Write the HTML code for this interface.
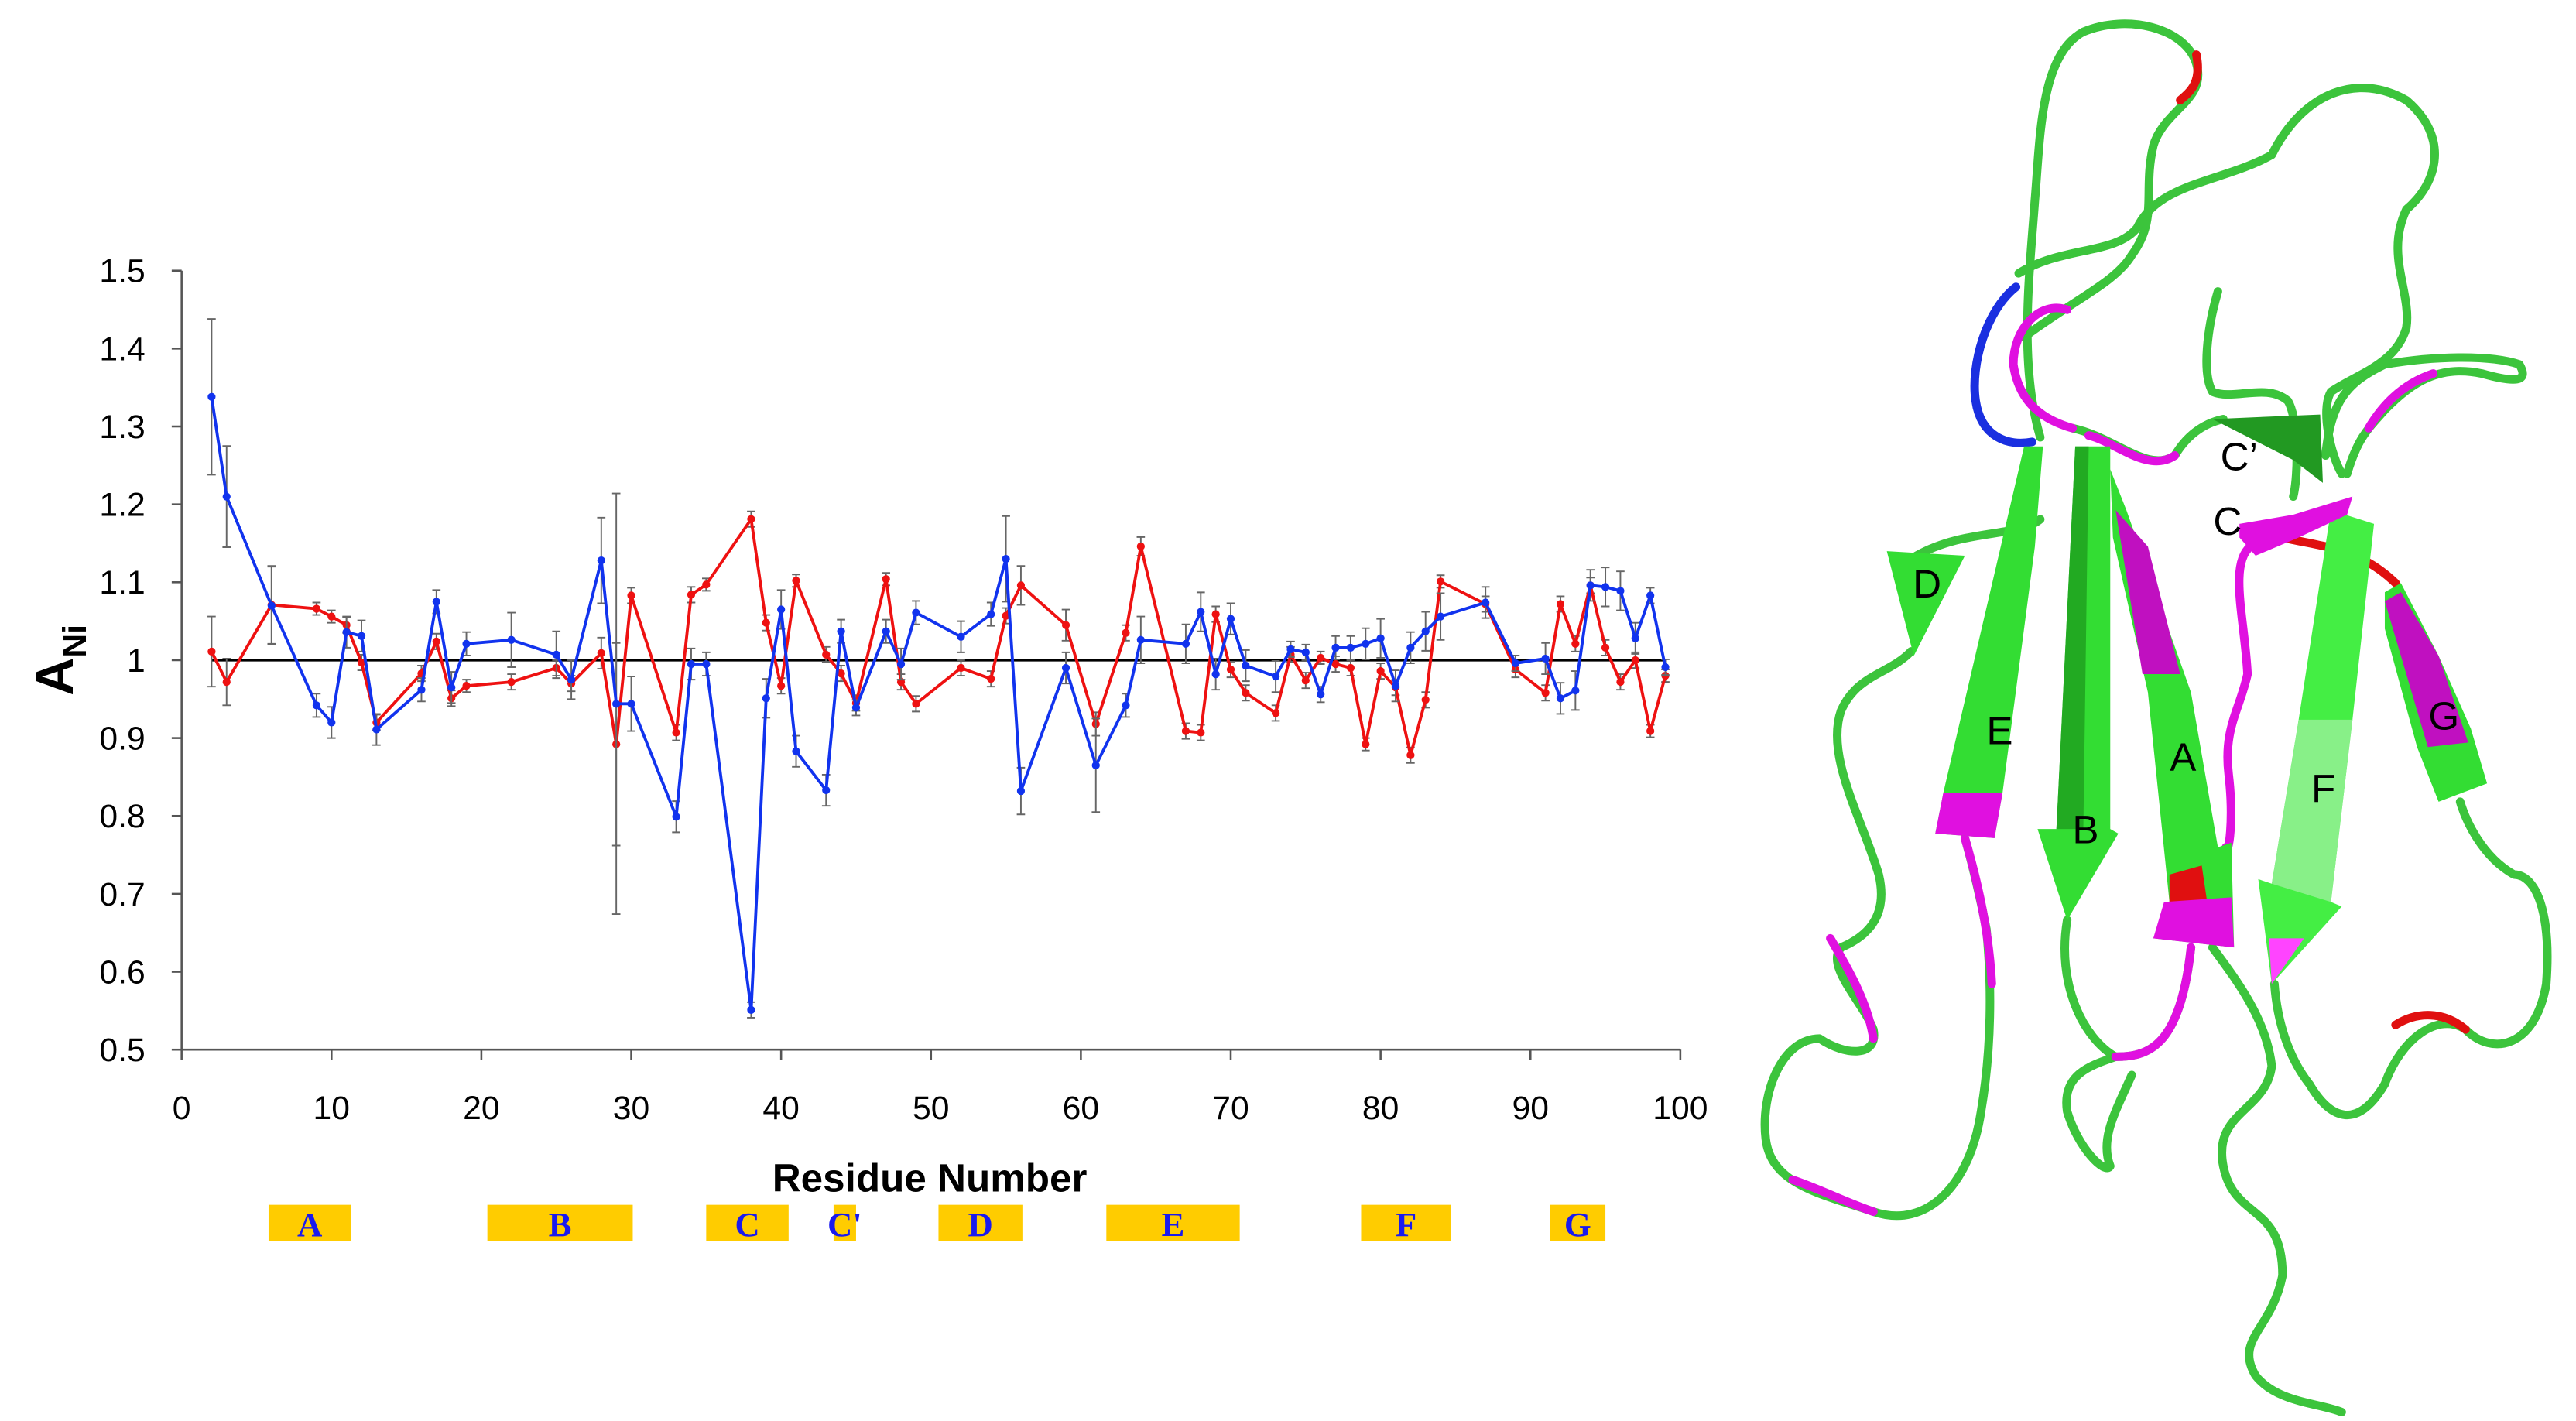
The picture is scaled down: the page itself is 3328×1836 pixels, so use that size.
<!DOCTYPE html>
<html><head><meta charset="utf-8"><style>
html,body{margin:0;padding:0;background:#fff;}
svg{display:block;}
text{font-family:"Liberation Sans",sans-serif;}
text.serif{font-family:"Liberation Serif",serif;}
</style></head><body>
<svg id="fig" width="3328" height="1836" viewBox="0 0 1560 861" preserveAspectRatio="none" xmlns="http://www.w3.org/2000/svg">
<g id="chart"></g>
<g id="protein">
 <g transform="translate(1053,0) scale(0.326,0.552)" fill="none" stroke-linecap="round" stroke-linejoin="round">
  <g stroke="#3cc43c" stroke-width="11">
   <path vector-effect="non-scaling-stroke" d="M560,480 C520,400 540,300 550,220 C560,150 560,60 640,35 C720,15 830,30 850,70 C870,110 790,120 770,160 C750,210 780,240 730,280 C700,310 620,330 530,370"/>
   <path vector-effect="non-scaling-stroke" d="M520,300 C600,270 700,280 740,250 C780,200 900,200 990,170 C1050,100 1150,80 1240,110 C1320,150 1300,200 1240,230 C1200,280 1250,320 1240,360 C1220,400 1150,410 1100,430 C1080,450 1100,500 1120,520"/>
   <path vector-effect="non-scaling-stroke" d="M620,470 C700,480 760,520 810,500 C830,480 860,465 900,460"/>
   <path vector-effect="non-scaling-stroke" d="M890,320 C870,360 860,410 880,430 C920,440 980,420 1020,440 C1040,460 1040,520 1030,545"/>
   <path vector-effect="non-scaling-stroke" d="M1090,500 C1100,440 1130,420 1200,400 C1300,390 1400,390 1450,400 C1470,420 1440,420 1380,410 C1300,400 1250,420 1200,450 C1170,470 1150,480 1130,520"/>
   <path vector-effect="non-scaling-stroke" d="M560,570 C520,590 420,580 330,610"/>
   <path vector-effect="non-scaling-stroke" d="M320,715 C280,740 220,740 190,780 C160,830 230,900 260,960 C280,1010 230,1030 190,1040 C160,1060 230,1100 250,1130 C260,1160 200,1160 150,1140 C80,1140 40,1200 50,1250 C60,1300 150,1310 250,1330 C350,1350 430,1300 450,1220 C470,1150 470,1080 460,1020 C440,960 420,920 420,920"/>
   <path vector-effect="non-scaling-stroke" d="M610,1010 C590,1080 640,1140 700,1160 C760,1160 820,1150 840,1040"/>
   <path vector-effect="non-scaling-stroke" d="M700,1160 C650,1170 600,1180 610,1220 C630,1260 680,1290 690,1280 C670,1250 700,1220 730,1180"/>
   <path vector-effect="non-scaling-stroke" d="M880,1040 C930,1080 980,1120 990,1170 C980,1220 880,1220 900,1280 C920,1340 1010,1320 1010,1400 C990,1460 920,1470 960,1510 C1000,1540 1080,1540 1120,1550"/>
   <path vector-effect="non-scaling-stroke" d="M995,1080 C1000,1120 1020,1160 1060,1190 C1100,1230 1150,1240 1200,1190 C1230,1140 1300,1110 1350,1130 C1400,1160 1480,1150 1500,1080 C1510,1000 1480,960 1440,960 C1380,940 1350,900 1340,880"/>
  </g>
  <g stroke="#e010e0" stroke-width="11">
   <path vector-effect="non-scaling-stroke" d="M610,340 C560,330 510,360 510,400 C520,440 560,460 620,470"/>
   <path vector-effect="non-scaling-stroke" d="M650,478 C700,485 760,520 810,500"/>
   <path vector-effect="non-scaling-stroke" d="M950,600 C910,620 940,680 945,740 C930,780 900,800 910,850 C920,900 910,940 905,930"/>
   <path vector-effect="non-scaling-stroke" d="M420,920 C440,960 465,1020 470,1080"/>
   <path vector-effect="non-scaling-stroke" d="M700,1160 C760,1160 820,1150 840,1040"/>
   <path vector-effect="non-scaling-stroke" d="M1170,470 C1200,440 1240,420 1290,410"/>
   <path vector-effect="non-scaling-stroke" d="M170,1030 C200,1060 240,1100 250,1140"/>
   <path vector-effect="non-scaling-stroke" d="M100,1295 C150,1305 200,1320 250,1330"/>
  </g>
  <path d="M515,315 C460,340 430,400 440,440 C450,480 500,490 545,485" stroke="#1a2fe0" stroke-width="11" vector-effect="non-scaling-stroke"/>
  <g stroke="#e01010" stroke-width="11">
   <path vector-effect="non-scaling-stroke" d="M850,60 C860,90 840,100 820,110"/>
   <path vector-effect="non-scaling-stroke" d="M1010,590 C1080,600 1150,600 1220,640"/>
   <path vector-effect="non-scaling-stroke" d="M1220,1125 C1260,1110 1310,1110 1350,1130"/>
  </g>
  <g stroke="none">
   <polygon points="530,490 565,490 550,600 490,870 475,920 365,915 380,870" fill="#33dd33"/>
   <polygon points="380,870 490,870 475,920 365,915" fill="#e010e0"/>
   <polygon points="625,490 690,490 690,910 705,915 610,1010 555,910 590,910" fill="#33dd33"/>
   <polygon points="625,490 650,490 640,910 590,910" fill="#22aa22"/>
   <polygon points="690,515 720,560 840,760 890,930 915,925 920,1040 770,1030 800,990 760,760 695,590" fill="#33dd33"/>
   <polygon points="700,560 760,600 820,740 750,740" fill="#c010c0"/>
   <polygon points="800,960 860,950 870,990 800,990" fill="#e01010"/>
   <polygon points="790,990 915,985 920,1040 770,1030" fill="#e010e0"/>
   <polygon points="1100,560 1180,575 1140,790 1100,990 1120,995 990,1080 965,965 990,970 1040,790" fill="#44ee44"/>
   <polygon points="1040,790 1140,790 1100,990 990,970" fill="#88f088"/>
   <polygon points="985,1030 1050,1030 990,1080" fill="#ff44ff"/>
   <polygon points="1200,650 1230,640 1300,720 1360,800 1390,860 1300,880 1260,820 1200,690" fill="#33dd33"/>
   <polygon points="1200,660 1230,650 1300,720 1355,815 1280,820 1240,740" fill="#c010c0"/>
   <polygon points="275,605 420,610 325,720" fill="#33dd33"/>
   <polygon points="880,460 1080,455 1085,530 1030,505" fill="#229922"/>
   <polygon points="930,575 1030,565 1140,545 1130,565 1040,590 960,610 930,590" fill="#e010e0"/>
  </g>
 </g>
 <g font-size="24" fill="#000">
  <text x="1167" y="362" text-anchor="middle">D</text>
  <text x="1211" y="451" text-anchor="middle">E</text>
  <text x="1263" y="511" text-anchor="middle">B</text>
  <text x="1322" y="467" text-anchor="middle">A</text>
  <text x="1407" y="486" text-anchor="middle">F</text>
  <text x="1480" y="442" text-anchor="middle">G</text>
  <text x="1356" y="285" text-anchor="middle">C’</text>
  <text x="1349" y="324" text-anchor="middle">C</text>
 </g>
</g>
</svg>
<script>
const residues = [2,3,6,9,10,11,12,13,16,17,18,19,22,25,26,28,29,30,33,34,35,38,39,40,41,43,44,45,47,48,49,52,54,55,56,59,61,63,64,67,68,69,70,71,73,74,75,76,77,78,79,80,81,82,83,84,87,89,91,92,93,94,95,96,97,98,99];
const blueValues = [1.338,1.21,1.07,0.942,0.92,1.036,1.031,0.911,0.962,1.075,0.965,1.021,1.026,1.007,0.975,1.128,0.944,0.944,0.799,0.995,0.995,0.551,0.951,1.065,0.883,0.833,1.037,0.939,1.037,0.995,1.061,1.030,1.059,1.130,0.832,0.99,0.865,0.942,1.026,1.021,1.062,0.982,1.053,0.993,0.979,1.014,1.01,0.956,1.016,1.016,1.021,1.028,0.967,1.016,1.037,1.056,1.074,0.996,1.002,0.951,0.961,1.096,1.094,1.089,1.028,1.083,0.991];
const blueErrors = [0.1,0.065,0.05,0.015,0.02,0.02,0.02,0.02,0.015,0.015,0.02,0.015,0.035,0.03,0.025,0.055,0.27,0.035,0.02,0.02,0.015,0.01,0.025,0.025,0.02,0.02,0.015,0.01,0.015,0.02,0.015,0.02,0.015,0.055,0.03,0.02,0.06,0.015,0.03,0.025,0.025,0.02,0.02,0.02,0.02,0.01,0.01,0.01,0.015,0.015,0.02,0.025,0.02,0.02,0.025,0.03,0.02,0.01,0.02,0.02,0.025,0.02,0.025,0.025,0.02,0.01,0.01];
const redValues = [1.011,0.972,1.071,1.066,1.056,1.045,0.997,0.92,0.983,1.024,0.951,0.967,0.972,0.99,0.97,1.009,0.892,1.083,0.907,1.084,1.097,1.181,1.048,0.967,1.102,1.007,0.983,0.945,1.104,0.972,0.944,0.99,0.976,1.057,1.096,1.045,0.918,1.035,1.146,0.909,0.907,1.059,0.988,0.958,0.932,1.007,0.974,1.003,0.995,0.99,0.892,0.986,0.965,0.878,0.949,1.101,1.072,0.988,0.958,1.072,1.021,1.096,1.016,0.972,1.0,0.909,0.98];
const redErrors = [0.045,0.03,0.05,0.008,0.008,0.01,0.01,0.01,0.01,0.01,0.01,0.008,0.01,0.01,0.01,0.02,0.13,0.01,0.01,0.01,0.008,0.01,0.01,0.01,0.008,0.01,0.01,0.01,0.008,0.01,0.01,0.01,0.01,0.01,0.025,0.02,0.015,0.01,0.012,0.01,0.01,0.01,0.01,0.01,0.01,0.01,0.01,0.008,0.01,0.01,0.008,0.01,0.01,0.01,0.01,0.008,0.01,0.01,0.01,0.01,0.01,0.01,0.01,0.01,0.01,0.008,0.008];
const xTicks = [0,10,20,30,40,50,60,70,80,90,100];
const yTicks = [0.5,0.6,0.7,0.8,0.9,1,1.1,1.2,1.3,1.4,1.5];
const segmentNames = ["A","B","C","C'","D","E","F","G"];
const segmentStarts = [5.8,20.4,35,43.5,50.5,61.7,78.7,91.3];
const segmentEnds = [11.3,30.1,40.5,45,56.1,70.6,84.7,95];

const NS = "http://www.w3.org/2000/svg";
const chart = document.getElementById("chart");
const X0 = 110, XPU = 9.076, Y15 = 164, YPU = 472;
function sx(v){ return X0 + v * XPU; }
function sy(v){ return Y15 + (1.5 - v) * YPU; }
function mk(tag, attrs, parent){
  const e = document.createElementNS(NS, tag);
  for (const k in attrs) e.setAttribute(k, attrs[k]);
  (parent || chart).appendChild(e);
  return e;
}
let ax = mk("line",{x1:sx(0),y1:sy(1.5),x2:sx(0),y2:sy(0.5),stroke:"#555","stroke-width":1.2});


ax = mk("line",{x1:sx(0),y1:sy(0.5),x2:sx(100),y2:sy(0.5),stroke:"#555","stroke-width":1.2});


yTicks.forEach(v => {
  const t = mk("line",{x1:sx(0)-6,y1:sy(v),x2:sx(0),y2:sy(v),stroke:"#555","stroke-width":1.2});
  
  
  const l = mk("text",{x:88,y:sy(v)+7,"text-anchor":"end","font-size":20,fill:"#000"});
  l.textContent = String(v);
  
  
});
xTicks.forEach(v => {
  const t = mk("line",{x1:sx(v),y1:sy(0.5),x2:sx(v),y2:sy(0.5)+6,stroke:"#555","stroke-width":1.2});
  
  
  const l = mk("text",{x:sx(v),y:678,"text-anchor":"middle","font-size":20,fill:"#000"});
  l.textContent = String(v);
  
  
});
let tt = mk("text",{x:563,y:722,"text-anchor":"middle","font-size":24,"font-weight":"bold",fill:"#000"});
tt.textContent = "Residue Number";


tt = mk("text",{transform:"translate(44,400) rotate(-90)","text-anchor":"middle","font-size":32,"font-weight":"bold",fill:"#000"});
tt.innerHTML = 'A<tspan font-size="20" dy="8">Ni</tspan>';


segmentNames.forEach((n,i) => {
  const r = mk("rect",{x:sx(segmentStarts[i]),y:730,width:sx(segmentEnds[i])-sx(segmentStarts[i]),height:22,fill:"#ffcc00"});
  
  
  const t = mk("text",{x:(sx(segmentStarts[i])+sx(segmentEnds[i]))/2,y:749,"text-anchor":"middle","font-size":21,"font-weight":"bold",fill:"#1a1aee","class":"serif"});
  t.textContent = n;
  
  
});
const ref = mk("line",{x1:sx(2),y1:sy(1),x2:sx(99),y2:sy(1),stroke:"#000","stroke-width":1.6});


function series(vals, errs, color, name){
  const g = mk("g",{});
  
  
  residues.forEach((r,i) => {
    const x = sx(r), y1 = sy(vals[i]+errs[i]), y2 = sy(vals[i]-errs[i]);
    const e = mk("path",{d:`M${x},${y1}V${y2}M${x-2.5},${y1}h5M${x-2.5},${y2}h5`,stroke:"#666","stroke-width":0.9,fill:"none"}, g);
    
    
  });
  const pts = residues.map((r,i) => sx(r) + "," + sy(vals[i])).join(" ");
  const pl = mk("polyline",{points:pts,fill:"none",stroke:color,"stroke-width":1.8,"stroke-linejoin":"round"}, g);
  
  
  residues.forEach((r,i) => {
    const c = mk("circle",{cx:sx(r),cy:sy(vals[i]),r:2.4,fill:color}, g);
    
    
  });
}
series(redValues, redErrors, "#ee1111", "red");
series(blueValues, blueErrors, "#1133ee", "blue");
</script>
</body></html>
